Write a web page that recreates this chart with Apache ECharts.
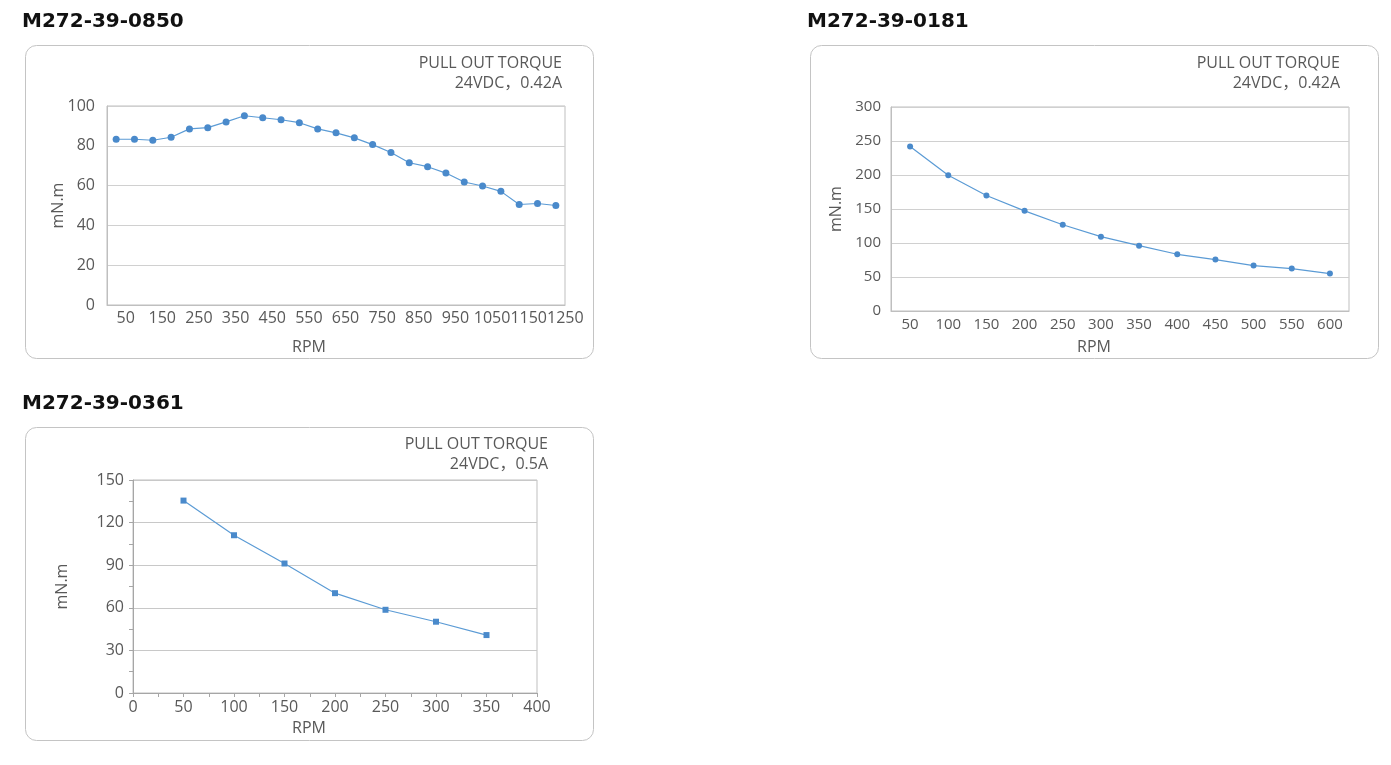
<!DOCTYPE html>
<html>
<head>
<meta charset="utf-8">
<script src="https://cdn.jsdelivr.net/npm/echarts@6/dist/echarts.min.js"></script>
<style>
html,body{margin:0;padding:0;background:#fff;}
#main{width:1391px;height:765px;}
</style>
</head>
<body>
<div id="main"></div>
<script>
// ---- data ----
const titles = ['M272-39-0850', 'M272-39-0181', 'M272-39-0361'];
const noteLine1 = 'PULL OUT TORQUE';
const noteLine2 = ['24VDC，0.42A', '24VDC，0.42A', '24VDC，0.5A'];
const xName = 'RPM';
const yName = 'mN.m';

const rpm1 = [50,100,150,200,250,300,350,400,450,500,550,600,650,700,750,800,850,900,950,1000,1050,1100,1150,1200,1250];
const torque1 = [83.3,83.3,82.8,84.3,88.5,89.1,92.0,95.1,94.1,93.1,91.6,88.5,86.5,84.0,80.6,76.6,71.5,69.5,66.3,61.8,59.8,57.1,50.5,51.0,50.0];

const rpm2 = [50,100,150,200,250,300,350,400,450,500,550,600];
const torque2 = [242,199.5,169.8,147.3,126.8,109.3,96.1,83.4,75.6,66.8,62.4,55.1];

const rpm3 = [50,100,150,200,250,300,350];
const torque3 = [135.5,111.1,91.2,70.3,58.6,50.2,40.8];

// ---- styles ----
const FONT = '"Open Sans","Noto Sans CJK SC",sans-serif';
const TXT = '#595959';
const LINE = '#5b9bd5';
const MARK = '#4a8acb';
const GRIDC = '#d0d0d0';
const AXISC = '#bfbfbf';

const chart = echarts.init(document.getElementById('main'));

const labelStyle = {color: TXT, fontSize: 15, fontFamily: FONT};

function boxGraphics(bx, by, bw, bh, title, note2, yNameX, rpmY, noteRight, noteY) {
  return [
    {type:'rect', shape:{x:bx+0.5, y:by+0.5, width:bw, height:bh, r:11},
     style:{fill:'none', stroke:'#c4c4c4', lineWidth:1}, silent:true},
    {type:'text', x: bx - 3, y: by - 23,
     style:{text:title, fill:'#111111', font:'bold 20px "DejaVu Sans", sans-serif', textAlign:'left', textVerticalAlign:'middle'}},
    {type:'text', x: noteRight, y: noteY,
     style:{text:noteLine1, fill:TXT, font:'16px ' + FONT, textAlign:'right', textVerticalAlign:'middle'}},
    {type:'text', x: noteRight, y: noteY + 20,
     style:{text:note2, fill:TXT, font:'16px ' + FONT, textAlign:'right', textVerticalAlign:'middle'}},
    {type:'text', x: bx + bw/2, y: rpmY,
     style:{text:xName, fill:TXT, font:'16px ' + FONT, textAlign:'center', textVerticalAlign:'middle'}},
    {type:'text', x: yNameX, y: 0, rotation: Math.PI/2,
     style:{text:yName, fill:TXT, font:'16px ' + FONT, textAlign:'center', textVerticalAlign:'middle'}}
  ];
}

const g1 = boxGraphics(25, 45, 568, 313, titles[0], noteLine2[0], 58.5, 347, 562, 63);
g1[5].y = 205.5;
const g2 = boxGraphics(810, 45, 568, 313, titles[1], noteLine2[1], 836, 347, 1340, 63);
g2[5].y = 209;
const g3 = boxGraphics(25, 427, 568, 313, titles[2], noteLine2[2], 62, 728, 548, 444);
g3[5].y = 586.5;

const option = {
  backgroundColor: '#fff',
  animation: false,
  graphic: {elements: [].concat(g1, g2, g3)},
  grid: [
    {left: 107, top: 106, width: 458, height: 199, show: true, borderColor: AXISC, borderWidth: 1, containLabel: false},
    {left: 891, top: 107, width: 458, height: 204, show: true, borderColor: AXISC, borderWidth: 1, containLabel: false},
    {left: 133, top: 480, width: 404, height: 213, show: true, borderColor: AXISC, borderWidth: 1, containLabel: false}
  ],
  xAxis: [
    {gridIndex: 0, type: 'category', data: rpm1, boundaryGap: true,
     axisLine: {lineStyle: {color: AXISC}}, axisTick: {show: false},
     axisLabel: Object.assign({interval: 1, margin: 5, padding: [0, 0, 0, 19]}, labelStyle, {fontSize: 16}),
     splitLine: {show: false}},
    {gridIndex: 1, type: 'category', data: rpm2, boundaryGap: true,
     axisLine: {lineStyle: {color: AXISC}}, axisTick: {show: false},
     axisLabel: Object.assign({interval: 0, margin: 6}, labelStyle),
     splitLine: {show: false}},
    {gridIndex: 2, type: 'value', min: 0, max: 400, interval: 50,
     axisLine: {show: true, lineStyle: {color: '#a6a6a6'}},
     axisTick: {show: true, length: 4, lineStyle: {color: '#a6a6a6'}},
     minorTick: {show: true, splitNumber: 2, length: 4, lineStyle: {color: '#a6a6a6'}},
     axisLabel: Object.assign({margin: 6}, labelStyle, {fontSize: 16}),
     splitLine: {show: false}}
  ],
  yAxis: [
    {gridIndex: 0, type: 'value', min: 0, max: 100, interval: 20,
     axisLine: {show: true, lineStyle: {color: AXISC}}, axisTick: {show: false},
     axisLabel: Object.assign({margin: 12}, labelStyle, {fontSize: 16}),
     splitLine: {lineStyle: {color: GRIDC}}},
    {gridIndex: 1, type: 'value', min: 0, max: 300, interval: 50,
     axisLine: {show: true, lineStyle: {color: AXISC}}, axisTick: {show: false},
     axisLabel: Object.assign({margin: 10}, labelStyle),
     splitLine: {lineStyle: {color: GRIDC}}},
    {gridIndex: 2, type: 'value', min: 0, max: 150, interval: 30,
     axisLine: {show: true, lineStyle: {color: '#a6a6a6'}},
     axisTick: {show: true, length: 4, lineStyle: {color: '#a6a6a6'}},
     minorTick: {show: true, splitNumber: 2, length: 4, lineStyle: {color: '#a6a6a6'}},
     axisLabel: Object.assign({margin: 9}, labelStyle, {fontSize: 16}),
     splitLine: {lineStyle: {color: '#c8c8c8'}}}
  ],
  series: [
    {type: 'line', xAxisIndex: 0, yAxisIndex: 0, data: torque1,
     symbol: 'circle', symbolSize: 7, lineStyle: {color: LINE, width: 1.2},
     itemStyle: {color: MARK}},
    {type: 'line', xAxisIndex: 1, yAxisIndex: 1, data: torque2,
     symbol: 'circle', symbolSize: 6, lineStyle: {color: LINE, width: 1.2},
     itemStyle: {color: MARK}},
    {type: 'line', xAxisIndex: 2, yAxisIndex: 2, data: rpm3.map((r, i) => [r, torque3[i]]),
     symbol: 'rect', symbolSize: 6, lineStyle: {color: LINE, width: 1.2},
     itemStyle: {color: MARK}}
  ]
};
chart.setOption(option);
</script>
</body>
</html>
